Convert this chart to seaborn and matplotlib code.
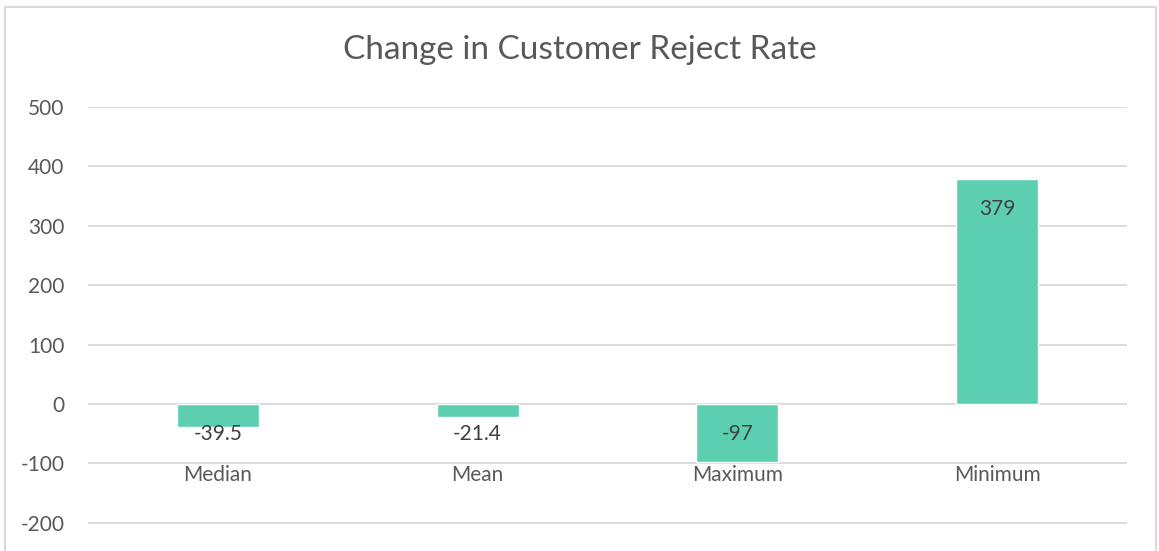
import pandas as pd
import matplotlib.pyplot as plt
import seaborn as sns
from matplotlib.patches import Rectangle

categories = ["Median", "Mean", "Maximum", "Minimum"]
values = [-39.5, -21.4, -97, 379]
value_labels = ["-39.5", "-21.4", "-97", "379"]
y_ticks = [-200, -100, 0, 100, 200, 300, 400, 500]

df = pd.DataFrame({"stat": categories, "change": values})

sns.set_style("white")
plt.rcParams['font.family'] = ['Lato', 'DejaVu Sans']

fig = plt.figure(figsize=(11.59, 5.51), dpi=100)
ax = fig.add_axes([88 / 1159, 0.0, (1127 - 88) / 1159, 1 - 107 / 551])

sns.barplot(df, x="stat", y="change", order=categories, color="#5DCFB1",
            saturation=1, width=0.315, ax=ax)

ax.set_xlim(-0.5, 3.5)
ax.set_ylim(-247.5, 500)
ax.set_yticks(y_ticks)
ax.set_yticklabels([str(t) for t in y_ticks], fontsize=15, color="#595959")
ax.tick_params(axis="y", length=0, pad=17)
ax.set_xticks([])
ax.set_xlabel(None)
ax.set_ylabel(None)
ax.grid(axis="y", color="#D9D9D9", linewidth=1.3)
ax.set_axisbelow(True)
for s in ax.spines.values():
    s.set_visible(False)

# category labels sit just under the -100 line like the original
for i, name in enumerate(categories):
    ax.text(i, -120, name, ha="center", va="center", fontsize=15, color="#595959")

# data labels
for i, (v, lab) in enumerate(zip(values, value_labels)):
    y = v - 50 if v > 0 else -50
    ax.text(i, y, lab, ha="center", va="center", fontsize=15, color="#404040")

fig.text(0.5, 1 - 50 / 551, "Change in Customer Reject Rate", ha="center", va="center",
         fontsize=24, color="#595959")

fig.patches.append(Rectangle((5 / 1159, -0.1), (1156 - 5) / 1159, 1.1 - 7 / 551,
                             transform=fig.transFigure, fill=False,
                             edgecolor="#D9D9D9", linewidth=1.5))

fig.savefig("out.png", dpi=100)
